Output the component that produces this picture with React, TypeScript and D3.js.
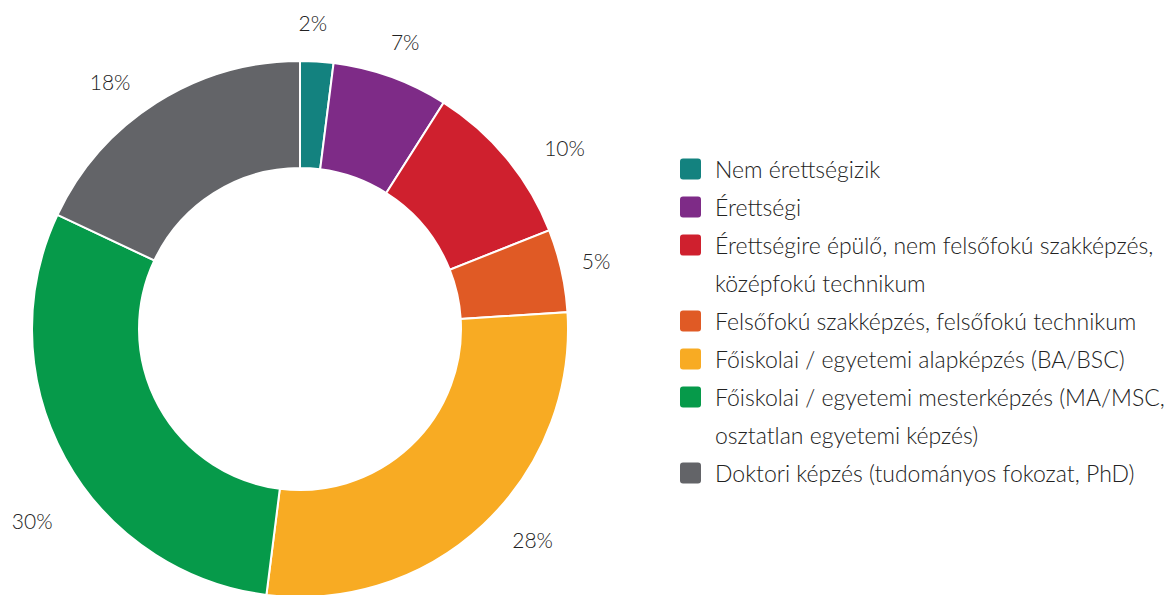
import { useEffect, useRef } from "react"
import * as d3 from "d3"

const categories = [
  "Nem érettségizik",
  "Érettségi",
  "Érettségire épülő, nem felsőfokú szakképzés,\nközépfokú technikum",
  "Felsőfokú szakképzés, felsőfokú technikum",
  "Főiskolai / egyetemi alapképzés (BA/BSC)",
  "Főiskolai / egyetemi mesterképzés (MA/MSC,\nosztatlan egyetemi képzés)",
  "Doktori képzés (tudományos fokozat, PhD)",
]
const values = [2, 7, 10, 5, 28, 30, 18]
const colors = ["#13827f", "#7e2b87", "#cf202e", "#e05a25", "#f8ab23", "#069a4a", "#636468"]
// label angle nudges (degrees) and radii, so labels sit where the original layout put them
const labelNudge = [-1.2, 0.3, 5.1, -0.5, -4.6, -6.7, -5.1]
const labelRadius = [307, 306, 321, 304, 314, 329, 312]

const FONT = "Lato, 'Open Sans', sans-serif"

export default function App() {
  const svgRef = useRef<SVGSVGElement>(null)

  useEffect(() => {
    if (!svgRef.current) return
    document.body.style.margin = "0"
    const svg = d3.select(svgRef.current)
    svg.selectAll("*").remove()

    const cx = 300
    const cy = 329
    const outer = 268
    const inner = 161

    const data = values.map((v, i) => ({ value: v, name: categories[i], color: colors[i], i }))

    const pie = d3
      .pie<{ value: number; name: string; color: string; i: number }>()
      .value((d) => d.value)
      .sort(null)

    const arcs = pie(data)
    const arc = d3
      .arc<d3.PieArcDatum<{ value: number; name: string; color: string; i: number }>>()
      .innerRadius(inner)
      .outerRadius(outer)

    const g = svg.append("g").attr("transform", `translate(${cx},${cy})`)

    g.selectAll("path.slice")
      .data(arcs)
      .enter()
      .append("path")
      .attr("class", "slice")
      .attr("d", arc)
      .attr("fill", (d) => d.data.color)
      .attr("stroke", "#fff")
      .attr("stroke-width", 2)

    // Percent labels
    g.selectAll("text.pct")
      .data(arcs)
      .enter()
      .append("text")
      .attr("class", "pct")
      .each(function (d) {
        const a = (d.startAngle + d.endAngle) / 2 + (labelNudge[d.data.i] * Math.PI) / 180
        const r = labelRadius[d.data.i]
        d3.select(this)
          .attr("x", Math.sin(a) * r)
          .attr("y", -Math.cos(a) * r)
      })
      .attr("text-anchor", "middle")
      .attr("dominant-baseline", "central")
      .attr("font-family", FONT)
      .attr("font-weight", 300)
      .attr("font-size", "21px")
      .attr("fill", "#222")
      .text((d) => `${d.data.value}%`)

    // Legend
    const legend = svg.append("g").attr("transform", "translate(680,0)")
    const lineH = 38
    let row = 0
    data.forEach((d) => {
      const lines = d.name.split("\n")
      const yc = 169 + row * lineH
      legend
        .append("rect")
        .attr("x", 0)
        .attr("y", yc - 10.5)
        .attr("width", 21)
        .attr("height", 21)
        .attr("rx", 3)
        .attr("fill", d.color)
      lines.forEach((ln, k) => {
        legend
          .append("text")
          .attr("x", 35)
          .attr("y", yc + k * lineH)
          .attr("dominant-baseline", "central")
          .attr("font-family", FONT)
          .attr("font-weight", 300)
          .attr("font-size", "23px")
          .attr("fill", "#222")
          .text(ln)
      })
      row += lines.length
    })
  }, [])

  return (
    <div style={{ position: "absolute", left: 0, top: 0 }}>
      <svg ref={svgRef} width={1173} height={595} style={{ display: "block" }} />
    </div>
  )
}
